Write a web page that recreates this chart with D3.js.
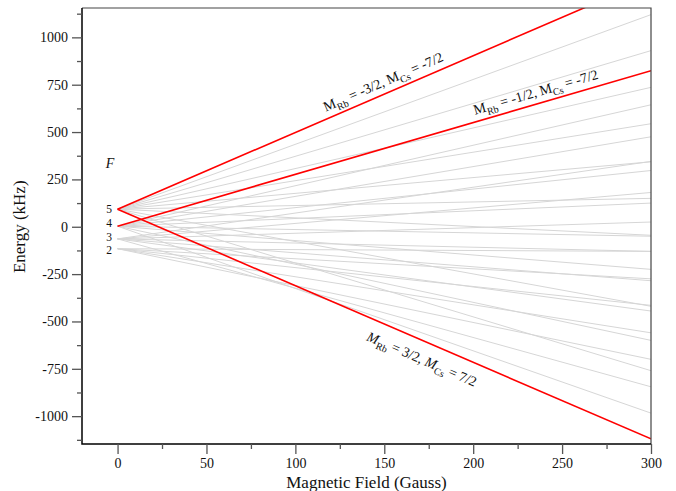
<!DOCTYPE html>
<html>
<head>
<meta charset="utf-8">
<script src="https://cdn.jsdelivr.net/npm/d3@7"></script>
<style>
  body { margin: 0; background: #fff; }
  text { font-family: 'Liberation Serif', 'DejaVu Serif', serif; fill: #111; }
</style>
</head>
<body>
<div id="chart"></div>
<script>
// zero-field hyperfine levels
const levelF = [5, 4, 3, 2];
const levelEnergy = [93, 3, -64, -116];

// each state: F it starts from at B = 0, energy (kHz) at B = 300 G
const stateF = [5, 5, 5, 4, 5, 4, 5, 4, 3, 5, 4, 3, 5, 4, 3, 2, 5, 4, 3, 2, 5, 4, 3, 2, 5, 4, 3, 2, 5, 4, 3, 2];
const stateEnd = [-1120, 1308, -760, -984, 1120, 824, -420, -600, -845, 930, 644, 345,
  -45, -225, -445, -700, 736, 475, 181, -130, 150, -50, -285, -560, 544, 297, 25, -275,
  343, 125, -130, -415];
const redStates = [0, 1, 5];

const xTicks = [0, 50, 100, 150, 200, 250, 300];
const xMinor = [25, 75, 125, 175, 225, 275];
const yTicks = [-1000, -750, -500, -250, 0, 250, 500, 750, 1000];
const yMinor = [-1125, -875, -625, -375, -125, 125, 375, 625, 875, 1125];

const W = 676, H = 491;
const L = 82, R = 651, T = 8, B = 444;
const serif = "'Liberation Serif', 'DejaVu Serif', serif";

const svg = d3.select("#chart").append("svg").attr("width", W).attr("height", H);

const x = d3.scaleLinear().domain([-20, 300]).range([L, R]);
const y = d3.scaleLinear().domain([-1147, 1155]).range([B, T]);

svg.append("clipPath").attr("id", "clip")
  .append("rect").attr("x", L).attr("y", T).attr("width", R - L).attr("height", B - T);

const plot = svg.append("g").attr("clip-path", "url(#clip)");

const lineData = stateF.map((f, i) => ({
  i: i,
  pts: [[0, levelEnergy[levelF.indexOf(f)]], [300, stateEnd[i]]],
  red: redStates.includes(i)
}));
const line = d3.line().x((d) => x(d[0])).y((d) => y(d[1]));

plot.selectAll("path.gray")
  .data(lineData.filter((d) => !d.red))
  .enter().append("path")
  .attr("d", (d) => line(d.pts))
  .attr("fill", "none").attr("stroke", "#d6d6d6").attr("stroke-width", 1);

plot.selectAll("path.red")
  .data(lineData.filter((d) => d.red))
  .enter().append("path")
  .attr("d", (d) => line(d.pts))
  .attr("fill", "none").attr("stroke", "#ff0000").attr("stroke-width", 1.6);

// frame
svg.append("path").attr("d", `M${L},${T}H${R}V${B}`)
  .attr("fill", "none").attr("stroke", "#444").attr("stroke-width", 1.2);
svg.append("path").attr("d", `M${L},${T}V${B}H${R}`)
  .attr("fill", "none").attr("stroke", "#000").attr("stroke-width", 1.5);

// axes
const xAxis = svg.append("g").attr("transform", `translate(0,${B})`);
xAxis.call(d3.axisBottom(x).tickValues(xTicks).tickSize(10).tickSizeOuter(0).tickPadding(4));
svg.append("g").attr("transform", `translate(0,${B})`)
  .call(d3.axisBottom(x).tickValues(xMinor).tickSize(5).tickFormat(() => ""));
const yAxis = svg.append("g").attr("transform", `translate(${L},0)`);
yAxis.call(d3.axisLeft(y).tickValues(yTicks).tickSize(10).tickSizeOuter(0).tickPadding(4)
  .tickFormat((d) => String(d)));
svg.append("g").attr("transform", `translate(${L},0)`)
  .call(d3.axisLeft(y).tickValues(yMinor).tickSize(5).tickFormat(() => ""));

svg.selectAll(".domain").remove();
svg.selectAll(".tick line").attr("stroke", "#555").attr("stroke-width", 1.3);
svg.selectAll(".tick text").attr("font-family", serif)
  .style("font-family", serif).style("font-size", "14px").attr("fill", "#111");

// axis titles
svg.append("text").attr("x", (L + R) / 2).attr("y", 488).attr("text-anchor", "middle")
  .style("font-size", "17px").text("Magnetic Field (Gauss)");
svg.append("text").attr("transform", `translate(25,${y(0)}) rotate(-90)`).attr("text-anchor", "middle")
  .style("font-size", "17px").text("Energy (kHz)");

// F level labels
svg.append("text").attr("x", 110).attr("y", 168).attr("text-anchor", "middle")
  .style("font-size", "14px").style("font-style", "italic").text("F");
const levelY = [208.5, 223, 236.5, 250];
svg.selectAll("text.level").data(levelF).enter().append("text")
  .attr("x", 112).attr("y", (d, i) => levelY[i] + 4).attr("text-anchor", "end")
  .style("font-size", "11.5px").text((d) => d);

// state labels along red lines
function stateLabel(idx, bx, offset, mRb, mCs, italic) {
  const d = lineData[idx].pts;
  const x0 = x(d[0][0]), y0 = y(d[0][1]), x1 = x(d[1][0]), y1 = y(d[1][1]);
  const ang = Math.atan2(y1 - y0, x1 - x0);
  const px = x(bx), py = y0 + (px - x0) * (y1 - y0) / (x1 - x0);
  const nx = px - Math.sin(ang) * offset, ny = py + Math.cos(ang) * offset;
  const t = svg.append("text")
    .attr("transform", `translate(${nx},${ny}) rotate(${ang * 180 / Math.PI})`)
    .attr("text-anchor", "middle").style("font-size", "14px");
  const st = italic ? "italic" : "normal";
  t.append("tspan").style("font-style", st).text("M");
  t.append("tspan").attr("dy", 4).style("font-size", "10px").text("Rb");
  t.append("tspan").attr("dy", -4).text(` = ${mRb}, `);
  t.append("tspan").style("font-style", st).text("M");
  t.append("tspan").attr("dy", 4).style("font-size", "10px").text("Cs");
  t.append("tspan").attr("dy", -4).text(` = ${mCs}`);
}
stateLabel(1, 152, -7, "-3/2", "-7/2", false);
stateLabel(5, 237, -7, "-1/2", "-7/2", false);
stateLabel(0, 175, 22, "3/2", "7/2", true);
</script>
</body>
</html>
